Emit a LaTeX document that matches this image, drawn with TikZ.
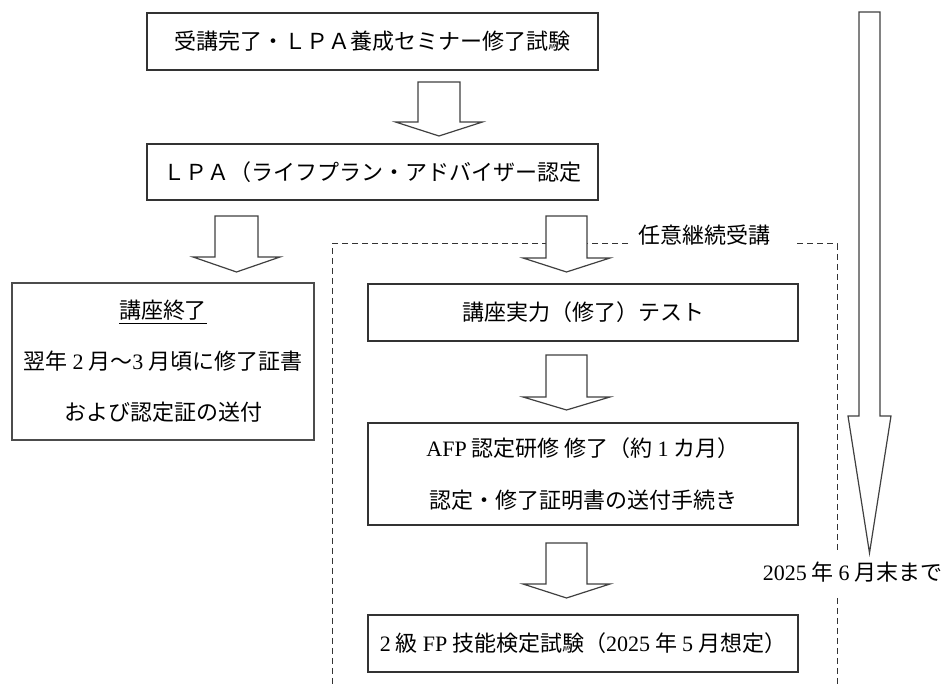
\documentclass[tikz,border=0pt]{standalone}
\usepackage{fontspec}
\setmainfont{Noto Sans CJK JP}
\newfontfamily\latinfont{Liberation Serif}
\newcommand{\ltn}[1]{{\latinfont #1}}
\tikzset{
  box/.style={draw=black!80, line width=0.6pt, fill=white, inner sep=0pt, align=center,
    font=\fontsize{11}{25.5}\selectfont},
  dashline/.style={draw=black!80, line width=0.5pt, dash pattern=on 3pt off 2pt},
  arrowline/.style={draw=black!75, line width=0.6pt, fill=white},
  pics/blkarrow/.style n args={4}{code={
    \draw[arrowline] (-#1,0) -- (#1,0) -- (#1,#3) -- (#2,#3) -- (0,#4) -- (-#2,#3) -- (-#1,#3) -- cycle;
  }}
}
\begin{document}
\begin{tikzpicture}[x=0.5pt,y=-0.5pt]
\useasboundingbox (0,0) rectangle (943,688);

% optional course frame
\draw[dashline] (628,244) -- (332,244) -- (332,688);
\draw[dashline] (797,244) -- (837,244) -- (837,552);
\draw[dashline] (837,598) -- (837,688);
\node[font=\fontsize{11}{13}\selectfont] (optional) at (704,235) {任意継続受講};

% main flow
\node[box, minimum width=225.5pt, minimum height=28.5pt] (seminar) at (372.5,41.5) {受講完了・ＬＰＡ養成セミナー修了試験};
\node[box, minimum width=225.5pt, minimum height=28pt] (lpa) at (372.5,172) {ＬＰＡ（ライフプラン・アドバイザー認定};
\node[box, draw=black!70, minimum width=151pt, minimum height=78.5pt] (courseend) at (163,361.5)
  {\underline{講座終了}\\翌年 \ltn{2} 月～\ltn{3} 月頃に修了証書\\および認定証の送付};
\node[box, minimum width=215pt, minimum height=28.5pt] (test) at (583,312.5) {講座実力（修了）テスト};
\node[box, minimum width=215pt, minimum height=51pt, font=\fontsize{11}{26}\selectfont] (afp) at (583,474)
  {\ltn{AFP} 認定研修 修了（約 \ltn{1} カ月）\\認定・修了証明書の送付手続き};
\node[box, minimum width=215pt, minimum height=28.5pt] (exam) at (583,643.5)
  {\ltn{2} 級 \ltn{FP} 技能検定試験（\ltn{2025} 年 \ltn{5} 月想定）};

% block arrows
\pic at (439,82) {blkarrow={21}{43.5}{40}{54}};
\pic at (236.5,216) {blkarrow={21.5}{43.5}{41}{56}};
\pic at (566.5,216) {blkarrow={20.5}{43.5}{42}{56}};
\pic at (566.5,355) {blkarrow={20.5}{43.5}{42}{55}};
\pic at (566.5,543) {blkarrow={20.5}{43.5}{41}{55}};

% time line
\pic at (869.5,12) {blkarrow={10.5}{21.5}{404}{541}};
\node[anchor=east, inner sep=0pt, font=\fontsize{11}{13}\selectfont] (deadline) at (943,572)
  {\ltn{2025} 年 \ltn{6} 月末まで};
\end{tikzpicture}
\end{document}
